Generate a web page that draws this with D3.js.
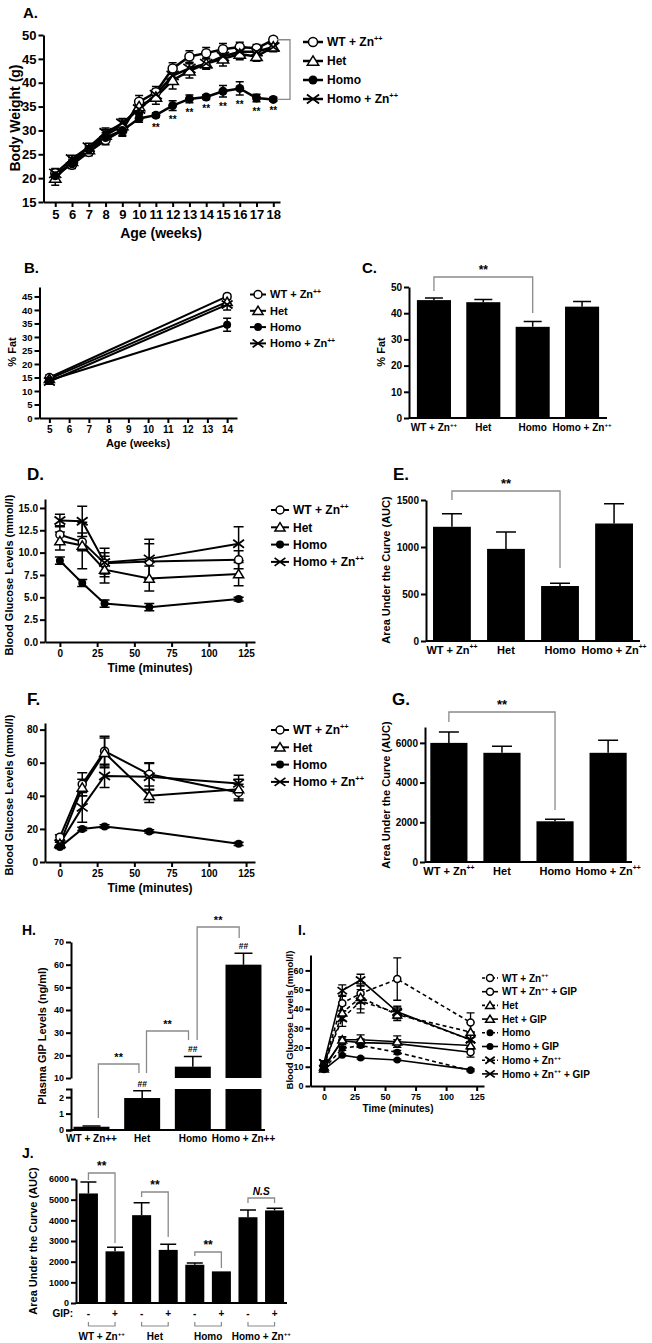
<!DOCTYPE html>
<html><head><meta charset="utf-8">
<script src="https://cdn.jsdelivr.net/npm/d3@7/dist/d3.min.js"></script>
<style>html,body{margin:0;padding:0;background:#fff}svg{display:block}text{fill:#000}</style>
</head><body>
<svg id="fig" width="652" height="1343"></svg>
<script>
// ---------------- DATA ----------------
const groups = ["WT + Zn{++}", "Het", "Homo", "Homo + Zn{++}"];
const groupsH = ["WT + Zn++", "Het", "Homo", "Homo + Zn++"];
const markerTypes = ["oc", "ot", "fc", "x"];

// A. body weight
const weeks = [5,6,7,8,9,10,11,12,13,14,15,16,17,18];
const bwWT      = [21.0,22.8,25.5,28.0,30.0,36.0,38.0,43.0,45.5,46.2,47.0,47.5,47.2,49.0];
const bwWTErr   = [1.0,0.8,0.8,1.0,1.2,1.3,1.2,1.2,1.2,1.2,1.2,1.0,0.8,0.6];
const bwHet     = [20.0,23.5,26.0,29.0,31.0,35.0,37.0,40.5,42.5,44.0,45.0,46.0,45.5,47.5];
const bwHetErr  = [1.5,0.8,0.8,1.2,1.2,1.2,1.5,1.8,1.5,1.2,1.5,1.2,1.0,1.0];
const bwHomo    = [20.5,23.0,26.0,28.5,30.0,32.5,33.2,35.2,36.6,37.0,38.2,38.8,36.8,36.5];
const bwHomoErr = [0.8,0.8,0.8,1.0,1.0,0.8,0.5,1.0,0.8,0.5,1.2,1.4,0.8,0.4];
const bwHomoZn    = [21.0,24.0,26.5,29.5,31.5,34.5,37.5,41.5,43.0,44.0,45.5,46.5,46.5,47.5];
const bwHomoZnErr = [0.8,0.8,0.8,1.0,1.0,1.0,1.2,1.2,1.2,1.0,1.2,1.0,0.8,0.8];
const starWeeks = [11,12,13,14,15,16,17,18];
const yTicksA = [15,20,25,30,35,40,45,50];

// B. % fat over age
const fatWeeks = [5,14];
const fatWT = [15.0,45.0], fatWTErr = [1.0,0.8];
const fatHet = [14.5,43.0], fatHetErr = [1.0,1.2];
const fatHomo = [14.0,34.5], fatHomoErr = [1.0,2.4];
const fatHomoZn = [13.5,42.0], fatHomoZnErr = [1.0,2.0];
const xTicksB = [5,6,7,8,9,10,11,12,13,14];
const yTicksB = [0,5,10,15,20,25,30,35,40,45];

// C. % fat bars
const fatBar = [45.0,44.2,34.8,42.5];
const fatBarErr = [0.8,1.0,2.0,2.0];
const yTicksC = [0,10,20,30,40,50];

// D. glucose tolerance
const times = [0,15,30,60,120];
const dWT = [12.0,11.2,8.8,9.0,9.2], dWTErr = [1.0,1.0,1.2,2.0,1.0];
const dHet = [11.3,10.8,8.1,7.1,7.6], dHetErr = [1.0,2.6,1.5,1.4,1.3];
const dHomo = [9.1,6.6,4.3,3.9,4.8], dHomoErr = [0.4,0.4,0.4,0.4,0.2];
const dHomoZn = [13.6,13.5,8.9,9.3,11.0], dHomoZnErr = [0.7,1.7,1.6,2.2,1.9];
const xTicksTime = [0,25,50,75,100,125];
const yTicksD = [0,2.5,5,7.5,10,12.5,15];

// E. AUC
const aucE = [1215,980,585,1250], aucEErr = [140,180,30,210];
const yTicksE = [0,500,1000,1500];

// F. glucose
const fWT = [15,47,67,53,42], fWTErr = [1.5,7,9,7,5];
const fHet = [11,45,66,40,44], fHetErr = [1,5,9,4,6];
const fHomo = [9,20,21.5,18.5,11], fHomoErr = [0.8,1,1,1,1];
const fHomoZn = [11,33,52,51.5,47.5], fHomoZnErr = [1,9,7,8,5];
const yTicksF = [0,20,40,60,80];

// G. AUC
const aucG = [6000,5500,2050,5500], aucGErr = [550,330,100,630];
const yTicksG = [0,2000,4000,6000];

// H. plasma GIP
const gipPlasma = [0.2,1.95,15,60], gipPlasmaErr = [0.05,0.45,4.5,5];
const yTicksHlow = [0,1,2];
const yTicksHhigh = [10,20,30,40,50,60,70];

// I. glucose +/- GIP
const iNames = ["WT + Zn{++}","WT + Zn{++} + GIP","Het","Het + GIP","Homo","Homo + GIP","Homo + Zn{++}","Homo + Zn{++} + GIP"];
const iMarkers = ["oc","oc","ot","ot","fc","fc","x","x"];
const iDashed = [true,false,true,false,true,false,true,false];
const iWT = [11,43,48,55.5,33], iWTErr = [1,4,5,11,5];
const iWTGIP = [10,23.5,22.5,22,17.5], iWTGIPErr = [1,2,2,2,2.5];
const iHet = [10,38,46,37,28], iHetErr = [1,4,6,3,5];
const iHetGIP = [9,24,24,23,21], iHetGIPErr = [1,1.5,2.5,3,2];
const iHomo = [9,19.5,21,17.5,8], iHomoErr = [0.5,1,1,1,0.5];
const iHomoGIP = [8.5,16,14.5,13.5,8.5], iHomoGIPErr = [0.5,0.5,0.5,0.5,0.5];
const iHomoZn = [12,35,44,38,24], iHomoZnErr = [1,4,6,3,4];
const iHomoZnGIP = [12,49.5,55,38.5,24], iHomoZnGIPErr = [1,3,3,3,4];
const yTicksI = [0,10,20,30,40,50,60];

// J. AUC +/- GIP
const jKeys = ["WT-","WT+","Het-","Het+","Homo-","Homo+","HZ-","HZ+"];
const gipSigns = ["-","+","-","+","-","+","-","+"];
const aucJ = [5300,2500,4250,2570,1850,1530,4150,4480];
const aucJErr = [550,200,600,270,80,0,350,110];
const yTicksJ = [0,1000,2000,3000,4000,5000,6000];
const jSig = ["**","**","**","N.S"];

// ---------------- HELPERS ----------------
const FONT = "'Liberation Sans', Arial, Helvetica, sans-serif";
const svg = d3.select('#fig').attr('font-family', FONT).attr('font-weight','bold');
svg.append('rect').attr('width',652).attr('height',1343).attr('fill','#fff');
const GRAY = '#8a8a8a';

function rich(t, s, fs){
  const parts = s.split(/(\{[^}]*\})/).filter(p => p.length);
  let shift = 0;
  parts.forEach(p => {
    if (p[0] === '{') {
      t.append('tspan').attr('font-size', fs*0.62).attr('dy', -fs*0.42).text(p.slice(1,-1));
      shift = fs*0.42;
    } else {
      const sp = t.append('tspan').text(p);
      if (shift) { sp.attr('dy', shift); shift = 0; }
    }
  });
}
function txt(g, x, y, s, fs, anchor, opts){
  opts = opts || {};
  const t = g.append('text').attr('x',x).attr('y',y).attr('font-size',fs)
    .attr('text-anchor',anchor||'middle').attr('fill','#000');
  if (opts.italic) t.attr('font-style','italic');
  if (opts.rotate) t.attr('transform',`rotate(-90,${x},${y})`);
  rich(t, s, fs);
  return t;
}
function styleAxis(a, fs){
  a.attr('font-family', FONT).attr('font-size', fs).attr('font-weight','bold');
  a.select('.domain').attr('stroke','#000').attr('stroke-width',2);
  a.selectAll('.tick line').attr('stroke','#000').attr('stroke-width',2);
  a.selectAll('.tick text').attr('fill','#000');
}
function marker(g, type, x, y, r){
  if (type === 'oc') g.append('circle').attr('cx',x).attr('cy',y).attr('r',r).attr('fill','#fff').attr('stroke','#000').attr('stroke-width',1.5);
  else if (type === 'fc') g.append('circle').attr('cx',x).attr('cy',y).attr('r',r).attr('fill','#000');
  else if (type === 'ot') { const h = r*1.15; g.append('path').attr('d',`M${x},${y-h}L${x+h*1.1},${y+h*0.8}L${x-h*1.1},${y+h*0.8}Z`).attr('fill','#fff').attr('stroke','#000').attr('stroke-width',1.5); }
  else if (type === 'x') { const w = r*1.35, h = r*1.0; g.append('path').attr('d',`M${x-w},${y-h}L${x+w},${y+h}M${x-w},${y+h}L${x+w},${y-h}`).attr('stroke','#000').attr('stroke-width',1.8).attr('fill','none'); }
}
function lineChart(c){
  const g = svg.append('g');
  const x0 = c.x.range()[0], yb = c.y.range()[0];
  const ya = g.append('g').attr('transform',`translate(${x0},0)`)
    .call(d3.axisLeft(c.y).tickValues(c.yTicks).tickFormat(c.yFmt || d3.format('d')).tickSize(5).tickSizeOuter(0).tickPadding(2));
  styleAxis(ya, c.fs);
  const xa = g.append('g').attr('transform',`translate(0,${yb})`)
    .call(d3.axisBottom(c.x).tickValues(c.xTicks).tickFormat(d3.format('d')).tickSize(5).tickSizeOuter(0).tickPadding(3));
  styleAxis(xa, c.fsx || c.fs);
  c.series.forEach(s => {
    const pts = s.v.map((v,i) => [c.x(c.xs[i]), c.y(v)]);
    g.append('path').attr('d', d3.line()(pts)).attr('fill','none').attr('stroke','#000')
      .attr('stroke-width', c.lw).attr('stroke-dasharray', s.dash ? c.dash : null);
  });
  c.series.forEach(s => s.v.forEach((v,i) => {
    const e = s.e[i]; if (!e) return;
    const xx = c.x(c.xs[i]), yl = c.y(v-e), yt = c.y(v+e);
    g.append('path').attr('d',`M${xx},${yl}V${yt}M${xx-c.cap},${yt}H${xx+c.cap}M${xx-c.cap},${yl}H${xx+c.cap}`)
      .attr('stroke','#000').attr('stroke-width',c.ew || 1.5).attr('fill','none');
  }));
  c.series.forEach(s => s.v.forEach((v,i) => marker(g, s.m, c.x(c.xs[i]), c.y(v), c.ms)));
  return g;
}
function legend(items, x0, y0, dy, fs, lw, ms, len, dash){
  const g = svg.append('g');
  items.forEach((it,i) => {
    const y = y0 + i*dy;
    g.append('line').attr('x1',x0).attr('x2',x0+len).attr('y1',y).attr('y2',y).attr('stroke','#000')
      .attr('stroke-width',lw).attr('stroke-dasharray', it.dash ? dash : null);
    marker(g, it.m, x0+len/2, y, ms);
    txt(g, x0+len+4, y+fs*0.36, it.name, fs, 'start');
  });
}
function barChart(c){
  const g = svg.append('g');
  const x = d3.scaleBand().domain(c.cats).range(c.xr).paddingInner(c.pi).paddingOuter(c.po);
  const bw = x.bandwidth();
  c.vals.forEach((v,i) => {
    const bx = x(c.cats[i]);
    g.append('rect').attr('x',bx).attr('width',bw).attr('y',c.y(v)).attr('height',c.y(0)-c.y(v)).attr('fill','#000');
    const e = c.errs[i];
    if (e) {
      const cx = bx + bw/2, yt = c.y(v+e);
      g.append('path').attr('d',`M${cx},${c.y(v)}V${yt}M${cx-c.cap},${yt}H${cx+c.cap}`).attr('stroke','#000').attr('stroke-width',1.5).attr('fill','none');
    }
  });
  const ya = g.append('g').attr('transform',`translate(${c.xr[0]},0)`)
    .call(d3.axisLeft(c.y).tickValues(c.yTicks).tickFormat(d3.format('d')).tickSize(5).tickSizeOuter(0).tickPadding(2));
  styleAxis(ya, c.fs);
  const xa = g.append('g').attr('transform',`translate(0,${c.y(0)})`)
    .call(d3.axisBottom(x).tickSize(0).tickSizeOuter(0).tickPadding(c.lpad || 6).tickFormat(c.fmt || (d => d)));
  xa.select('.domain').attr('d', `M${c.xr[0]},0H${c.xr[1]}`);
  styleAxis(xa, c.fsx);
  if (c.rich) xa.selectAll('.tick text').each(function(d){ const t = d3.select(this); t.text(null); rich(t, d, c.fsx); });
  return {g, x};
}
function sigBracket(g, x1, x2, yTop, yb1, yb2, label, fs, italic){
  g.append('path').attr('d',`M${x1},${yb1}V${yTop}H${x2}V${yb2}`).attr('fill','none').attr('stroke',GRAY).attr('stroke-width',1.3);
  const t = g.append('text').attr('x',(x1+x2)/2).attr('y',yTop-3).attr('text-anchor','middle').attr('font-size',fs).attr('fill','#000').text(label);
  if (italic) t.attr('font-style','italic').attr('font-size', fs*0.85);
}
const lbl = svg.append('g');

// ---------------- A ----------------
const xA = d3.scaleLinear().domain([4.3,18.4]).range([43.5,280]);
const yA = d3.scaleLinear().domain([15,50]).range([202,35]);
const seriesA = [[bwWT,bwWTErr],[bwHet,bwHetErr],[bwHomo,bwHomoErr],[bwHomoZn,bwHomoZnErr]]
  .map((s,i) => ({v:s[0], e:s[1], m:markerTypes[i]}));
const gA = lineChart({x:xA, y:yA, xs:weeks, series:seriesA, yTicks:yTicksA, xTicks:weeks, fs:13, lw:2.5, ms:4.5, cap:4});
starWeeks.forEach(w => {
  const i = weeks.indexOf(w);
  gA.append('text').attr('x',xA(w)).attr('y',yA(bwHomo[i]-bwHomoErr[i])+13).attr('text-anchor','middle').attr('font-size',10).attr('fill','#000').text('**');
});
txt(lbl, 23, 18, 'A.', 15, 'start');
txt(lbl, 161, 238, 'Age (weeks)', 14);
txt(lbl, 20, 118, 'Body Weight (g)', 14, 'middle', {rotate:true});
svg.append('path').attr('d',`M277,${yA(49)}H290V${yA(36.5)}H277`).attr('fill','none').attr('stroke',GRAY).attr('stroke-width',1.3);
legend(groups.map((n,i) => ({name:n, m:markerTypes[i]})), 303, 42, 19, 12, 2.5, 4.5, 20);

// ---------------- B ----------------
const xB = d3.scaleLinear().domain([4.5,14.5]).range([39.5,237]);
const yB = d3.scaleLinear().domain([0,48.5]).range([418,287]);
const seriesB = [[fatWT,fatWTErr],[fatHet,fatHetErr],[fatHomo,fatHomoErr],[fatHomoZn,fatHomoZnErr]]
  .map((s,i) => ({v:s[0], e:s[1], m:markerTypes[i]}));
lineChart({x:xB, y:yB, xs:fatWeeks, series:seriesB, yTicks:yTicksB, xTicks:xTicksB, fs:9.5, fsx:10, lw:2, ms:4, cap:4});
txt(lbl, 24, 273, 'B.', 15, 'start');
txt(lbl, 138, 447, 'Age (weeks)', 11);
txt(lbl, 16, 352, '% Fat', 11, 'middle', {rotate:true});
legend(groups.map((n,i) => ({name:n, m:markerTypes[i]})), 250, 294.5, 16.3, 11, 2, 4, 16);

// ---------------- C ----------------
const yC = d3.scaleLinear().domain([0,50]).range([418,287]);
const bc = barChart({cats:groups, vals:fatBar, errs:fatBarErr, xr:[409,607], pi:0.31, po:0.16, y:yC, yTicks:yTicksC, fs:10, fsx:10, cap:9, rich:true});
txt(lbl, 362, 273, 'C.', 15, 'start');
txt(lbl, 385, 352, '% Fat', 11, 'middle', {rotate:true});
{ const cx = d => bc.x(d) + bc.x.bandwidth()/2;
  sigBracket(bc.g, cx(groups[0]), cx(groups[2]), 277, 291, 313, '**', 12); }

// ---------------- D ----------------
const xT = d3.scaleLinear().domain([-10,131]).range([45,255]);
const yD = d3.scaleLinear().domain([0,16]).range([642,499]);
const seriesD = [[dWT,dWTErr],[dHet,dHetErr],[dHomo,dHomoErr],[dHomoZn,dHomoZnErr]]
  .map((s,i) => ({v:s[0], e:s[1], m:markerTypes[i]}));
lineChart({x:xT, y:yD, xs:times, series:seriesD, yTicks:yTicksD, xTicks:xTicksTime, yFmt:d3.format('.1f'), fs:10, lw:2, ms:4, cap:5});
txt(lbl, 27, 480, 'D.', 17, 'start');
txt(lbl, 150, 672, 'Time (minutes)', 12);
txt(lbl, 13, 575, 'Blood Glucose Levels (mmol/l)', 11, 'middle', {rotate:true});
legend(groups.map((n,i) => ({name:n, m:markerTypes[i]})), 271, 510, 17.3, 12, 2, 4, 18);

// ---------------- E ----------------
const yE = d3.scaleLinear().domain([0,1500]).range([641,500]);
const be = barChart({cats:groups, vals:aucE, errs:aucEErr, xr:[426,640], pi:0.3, po:0.13, y:yE, yTicks:yTicksE, fs:10, fsx:11, cap:10, rich:true, lpad:5});
txt(lbl, 393, 480, 'E.', 17, 'start');
txt(lbl, 390, 570, 'Area Under the Curve (AUC)', 11, 'middle', {rotate:true});
{ const cx = d => be.x(d) + be.x.bandwidth()/2;
  sigBracket(be.g, cx(groups[0]), cx(groups[2]), 491, 500, 568, '**', 13); }

// ---------------- F ----------------
const yF = d3.scaleLinear().domain([0,84]).range([862,723]);
const seriesF = [[fWT,fWTErr],[fHet,fHetErr],[fHomo,fHomoErr],[fHomoZn,fHomoZnErr]]
  .map((s,i) => ({v:s[0], e:s[1], m:markerTypes[i]}));
lineChart({x:xT, y:yF, xs:times, series:seriesF, yTicks:yTicksF, xTicks:xTicksTime, fs:10, lw:2, ms:4, cap:5});
txt(lbl, 27, 705, 'F.', 17, 'start');
txt(lbl, 150, 892, 'Time (minutes)', 12);
txt(lbl, 13, 795, 'Blood Glucose Levels (mmol/l)', 11, 'middle', {rotate:true});
legend(groups.map((n,i) => ({name:n, m:markerTypes[i]})), 271, 730, 17.3, 12, 2, 4, 18);

// ---------------- G ----------------
const yG = d3.scaleLinear().domain([0,6800]).range([862,727]);
const bg = barChart({cats:groups, vals:aucG, errs:aucGErr, xr:[425,632], pi:0.3, po:0.1, y:yG, yTicks:yTicksG, fs:10, fsx:11, cap:10, rich:true, lpad:5});
txt(lbl, 392, 705, 'G.', 17, 'start');
txt(lbl, 390, 795, 'Area Under the Curve (AUC)', 11, 'middle', {rotate:true});
{ const cx = d => bg.x(d) + bg.x.bandwidth()/2;
  sigBracket(bg.g, cx(groups[0]), cx(groups[2]), 712, 722, 810, '**', 13); }

// ---------------- H ----------------
{
  const g = svg.append('g');
  const xH = d3.scaleBand().domain(groupsH).range([71,264]).paddingInner(0.29).paddingOuter(0.05);
  const yLo = d3.scaleLinear().domain([0,2.5]).range([1130,1089]);
  const yHi = d3.scaleLinear().domain([10,70]).range([1078,942]);
  const bw = xH.bandwidth();
  gipPlasma.forEach((v,i) => {
    const bx = xH(groupsH[i]);
    const lt = yLo(Math.min(v,2.5));
    g.append('rect').attr('x',bx).attr('width',bw).attr('y',lt).attr('height',1130-lt).attr('fill','#000');
    if (v > 10) g.append('rect').attr('x',bx).attr('width',bw).attr('y',yHi(v)).attr('height',1078-yHi(v)).attr('fill','#000');
    const ys = v > 10 ? yHi : yLo, cx = bx + bw/2, e = gipPlasmaErr[i];
    g.append('path').attr('d',`M${cx},${ys(v)}V${ys(v+e)}M${cx-9},${ys(v+e)}H${cx+9}`).attr('stroke','#000').attr('stroke-width',1.5).attr('fill','none');
    if (i > 0) g.append('text').attr('x',cx).attr('y',ys(v+e)-4).attr('text-anchor','middle').attr('font-size',8.5).attr('fill','#000').text('##');
  });
  const aLo = g.append('g').attr('transform','translate(71,0)').call(d3.axisLeft(yLo).tickValues(yTicksHlow).tickSize(5).tickSizeOuter(5).tickPadding(2).tickFormat(d3.format('d')));
  styleAxis(aLo, 9);
  const aHi = g.append('g').attr('transform','translate(71,0)').call(d3.axisLeft(yHi).tickValues(yTicksHhigh).tickSize(5).tickSizeOuter(0).tickPadding(2).tickFormat(d3.format('d')));
  styleAxis(aHi, 9);
  const xa = g.append('g').attr('transform','translate(0,1130)').call(d3.axisBottom(xH).tickSize(0).tickPadding(5));
  xa.select('.domain').attr('d','M71,0H265');
  styleAxis(xa, 10);
  const pos = (k, f) => xH(groupsH[k]) + f*bw;
  sigBracket(g, pos(0,0.69), pos(1,0.41), 1064, 1118, 1073, '**', 11);
  sigBracket(g, pos(1,0.62), pos(2,0.38), 1031, 1073, 1040, '**', 11);
  sigBracket(g, pos(2,0.62), pos(3,0.38), 927, 1040, 938, '**', 11);
}
txt(lbl, 22, 935, 'H.', 14, 'start');
txt(lbl, 46, 1036, 'Plasma GIP Levels (ng/ml)', 11, 'middle', {rotate:true});

// ---------------- I ----------------
const xI = d3.scaleLinear().domain([-11,131]).range([310.5,484]);
const yI = d3.scaleLinear().domain([0,68]).range([1086,955]);
const iVals = [iWT,iWTGIP,iHet,iHetGIP,iHomo,iHomoGIP,iHomoZn,iHomoZnGIP];
const iErrs = [iWTErr,iWTGIPErr,iHetErr,iHetGIPErr,iHomoErr,iHomoGIPErr,iHomoZnErr,iHomoZnGIPErr];
const seriesI = iVals.map((v,i) => ({v, e:iErrs[i], m:iMarkers[i], dash:iDashed[i]}));
lineChart({x:xI, y:yI, xs:times, series:seriesI, yTicks:yTicksI, xTicks:xTicksTime, fs:9, lw:1.6, ms:3.5, cap:4, dash:'4,3', ew:1.3});
txt(lbl, 298, 935, 'I.', 14, 'start');
txt(lbl, 398, 1112, 'Time (minutes)', 10);
txt(lbl, 293, 1020, 'Blood Glucose Levels (mmol/l)', 9.5, 'middle', {rotate:true});
legend(iNames.map((n,i) => ({name:n, m:iMarkers[i], dash:iDashed[i]})), 482, 978, 13.7, 10, 1.6, 3.5, 16, '3,2');

// ---------------- J ----------------
const yJ = d3.scaleLinear().domain([0,6000]).range([1303,1179]);
const bj = barChart({cats:jKeys, vals:aucJ, errs:aucJErr, xr:[76,287], pi:0.285, po:0.11, y:yJ, yTicks:yTicksJ, fs:9, fsx:10, cap:8, lpad:7, fmt:(d => gipSigns[jKeys.indexOf(d)])});
{
  const cx = k => bj.x(jKeys[k]) + bj.x.bandwidth()/2;
  const tops = [[1173,1180,1243],[1192,1197,1237],[1252,1256,1268],[1198,1203,1203]];
  jSig.forEach((s,p) => sigBracket(bj.g, cx(2*p), cx(2*p+1), tops[p][0], tops[p][1], tops[p][2], s, 12, s !== '**'));
  groups.forEach((n,p) => {
    bj.g.append('path').attr('d',`M${cx(2*p)},1322V1326H${cx(2*p+1)}V1322`).attr('fill','none').attr('stroke',GRAY).attr('stroke-width',1.2);
    txt(bj.g, (cx(2*p)+cx(2*p+1))/2, 1340, n, 10);
  });
  txt(bj.g, 73, 1317, 'GIP:', 10, 'end');
}
txt(lbl, 22, 1158, 'J.', 14, 'start');
txt(lbl, 37, 1241, 'Area Under the Curve (AUC)', 11, 'middle', {rotate:true});
</script></body></html>
